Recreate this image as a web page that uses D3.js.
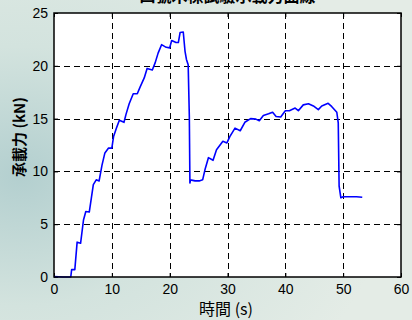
<!DOCTYPE html>
<html>
<head>
<meta charset="utf-8">
<script src="https://cdn.jsdelivr.net/npm/d3@7/dist/d3.min.js"></script>
<style>
  html, body { margin: 0; padding: 0; }
  body { width: 412px; height: 320px; overflow: hidden; }
  svg { display: block; }
</style>
</head>
<body>
<svg id="chart" width="412" height="320"></svg>
<script>
// Load test record: time (s) vs. bearing force (kN)
const timeS = [0, 1.6, 2.9, 3.05, 3.6, 4.0, 4.6, 5.1, 5.5, 6.1, 6.8, 7.3, 7.8, 8.3, 8.8, 9.4, 10.0,
  10.3, 10.8, 11.3, 12.1, 12.45, 13.0, 13.7, 14.4, 14.9, 15.6, 16.1, 17.0, 17.5, 18.0, 18.6,
  19.4, 20.0, 20.35, 21.1, 21.5, 21.8, 22.35, 22.65, 22.9, 23.2, 23.4, 23.5, 23.6, 24.4, 25.1,
  25.7, 26.1, 26.7, 27.5, 28.1, 29.2, 29.9, 30.4, 31.3, 32.2, 33.0, 34.0, 34.9, 35.5, 36.2,
  37.1, 37.8, 38.4, 39.2, 40.0, 40.7, 41.7, 42.25, 43.1, 44.0, 44.85, 45.7, 46.3, 47.4, 48.0,
  48.9, 49.15, 49.3, 49.6, 50.0, 51.2, 52.3, 53.3];
const forceKN = [0.05, 0.0, 0.0, 0.7, 0.7, 3.3, 3.2, 5.4, 6.2, 6.15, 8.75, 9.2, 9.1, 10.6, 11.75, 12.2, 12.2,
  13.3, 14.1, 14.85, 14.65, 15.4, 16.4, 17.35, 17.35, 18.0, 18.85, 19.75, 19.6, 20.3, 21.2, 22.0,
  21.75, 21.7, 22.4, 22.2, 22.2, 23.15, 23.2, 21.4, 20.6, 20.1, 15.2, 8.9, 9.2, 9.1, 9.1,
  9.2, 10.15, 11.3, 11.05, 12.05, 12.85, 12.7, 13.3, 14.1, 13.85, 14.65, 15.0, 14.95, 14.8, 15.3,
  15.45, 15.6, 15.2, 15.15, 15.75, 15.75, 16.0, 15.75, 16.3, 16.4, 16.2, 15.85, 16.2, 16.45, 16.15,
  15.6, 14.6, 8.6, 7.5, 7.6, 7.6, 7.6, 7.55];

const xTicks = [0, 10, 20, 30, 40, 50, 60];
const yTicks = [0, 5, 10, 15, 20, 25];

const titleText = "四號木樑試驗承載力曲線";
const xLabel = "時間 (s)";
const yLabel = "承載力 (kN)";

const svg = d3.select("#chart");
const W = 412, H = 320;
const plot = { left: 54, right: 401, top: 13, bottom: 277 };

// Soft background wash
const defs = svg.append("defs");
const bg = defs.append("radialGradient").attr("id", "bgGrad")
  .attr("cx", "0.05").attr("cy", "0.55").attr("r", "0.9");
bg.append("stop").attr("offset", "0").attr("stop-color", "#b3cfcf");
bg.append("stop").attr("offset", "0.45").attr("stop-color", "#d3e3de");
bg.append("stop").attr("offset", "1").attr("stop-color", "#e4ece6");
svg.append("rect").attr("width", W).attr("height", H).attr("fill", "url(#bgGrad)");

const x = d3.scaleLinear().domain([0, 60]).range([plot.left, plot.right]);
const y = d3.scaleLinear().domain([0, 25]).range([plot.bottom, plot.top]);

// Plot area
svg.append("rect")
  .attr("x", plot.left).attr("y", plot.top)
  .attr("width", plot.right - plot.left).attr("height", plot.bottom - plot.top)
  .attr("fill", "#ffffff");

// Dashed grid
const grid = svg.append("g").attr("stroke", "#000").attr("stroke-width", 1)
  .attr("stroke-dasharray", "6,4");
grid.selectAll("line.gx").data(xTicks.slice(1, -1)).join("line")
  .attr("x1", d => Math.round(x(d)) + 0.5).attr("x2", d => Math.round(x(d)) + 0.5)
  .attr("y1", plot.top).attr("y2", plot.bottom);
grid.selectAll("line.gy").data(yTicks.slice(1, -1)).join("line")
  .attr("y1", d => Math.round(y(d)) + 0.5).attr("y2", d => Math.round(y(d)) + 0.5)
  .attr("x1", plot.left).attr("x2", plot.right);

// Inward tick marks on all four sides
const tickLen = 4;
const xAxisB = d3.axisBottom(x).tickValues(xTicks).tickSizeInner(-tickLen).tickSizeOuter(0).tickPadding(7);
const xAxisT = d3.axisTop(x).tickValues(xTicks).tickSizeInner(-tickLen).tickSizeOuter(0).tickFormat("");
const yAxisL = d3.axisLeft(y).tickValues(yTicks).tickSizeInner(-tickLen).tickSizeOuter(0).tickPadding(6);
const yAxisR = d3.axisRight(y).tickValues(yTicks).tickSizeInner(-tickLen).tickSizeOuter(0).tickFormat("");

function styleAxis(g) {
  g.select(".domain").remove();
  g.selectAll("line").attr("stroke", "#000");
  g.selectAll("text").attr("fill", "#000")
    .style("font-family", "'Liberation Sans', Arial, sans-serif").style("font-size", "14px");
}
svg.append("g").attr("transform", `translate(0,${plot.bottom})`).call(xAxisB).call(styleAxis);
svg.append("g").attr("transform", `translate(0,${plot.top})`).call(xAxisT).call(styleAxis);
svg.append("g").attr("transform", `translate(${plot.left},0)`).call(yAxisL).call(styleAxis);
svg.append("g").attr("transform", `translate(${plot.right},0)`).call(yAxisR).call(styleAxis);

// Data curve
const pts = timeS.map((t, i) => [t, forceKN[i]]);
svg.append("path").datum(pts)
  .attr("fill", "none").attr("stroke", "#0000ff").attr("stroke-width", 1.6)
  .attr("stroke-linejoin", "round")
  .attr("d", d3.line().x(d => x(d[0])).y(d => y(d[1])));

// Axes box
svg.append("rect")
  .attr("x", plot.left).attr("y", plot.top)
  .attr("width", plot.right - plot.left).attr("height", plot.bottom - plot.top)
  .attr("fill", "none").attr("stroke", "#000").attr("stroke-width", 1.5);

// Title (sits at the top edge) and axis labels
const cjk = "'Noto Sans CJK TC', 'Liberation Sans', sans-serif";
svg.append("text").attr("x", (plot.left + plot.right) / 2).attr("y", 2)
  .attr("text-anchor", "middle").style("font-family", cjk).style("font-size", "16px")
  .style("font-weight", "bold").attr("fill", "#000").text(titleText);
svg.append("text").attr("x", 226).attr("y", 315)
  .attr("text-anchor", "middle").style("font-family", cjk).style("font-size", "16px")
  .style("font-weight", "normal").attr("fill", "#000").text(xLabel);
svg.append("text").attr("transform", `translate(25,137) rotate(-90)`)
  .attr("text-anchor", "middle").style("font-family", cjk).style("font-size", "15px")
  .style("font-weight", "bold").attr("fill", "#000").text(yLabel);
</script>
</body>
</html>
